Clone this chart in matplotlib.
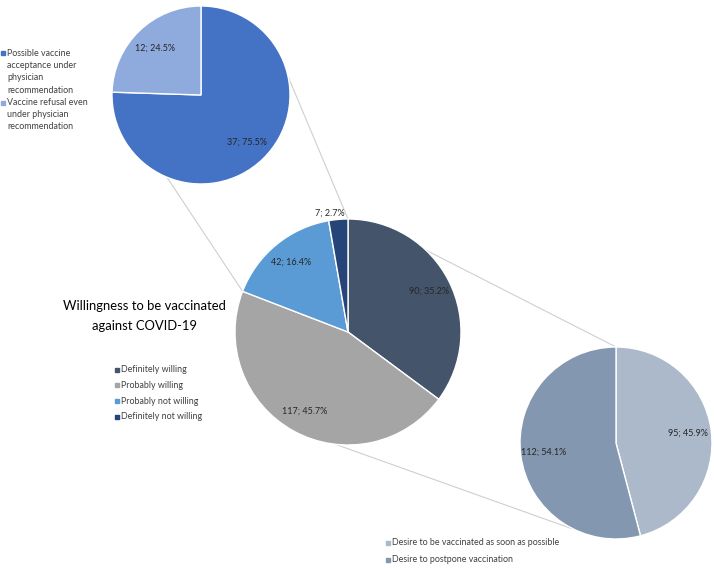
import numpy as np
import matplotlib.pyplot as plt

plt.rcParams['font.family'] = ['Lato', 'DejaVu Sans']

''' Data '''
willing_labels = ['Definitely willing', 'Probably willing',
                  'Probably not willing', 'Definitely not willing']
willing_counts = [90, 117, 42, 7]
willing_colors = ['#44546A', '#A5A5A5', '#5B9BD5', '#264478']

physician_labels = ['Possible vaccine\nacceptance under\nphysician\nrecommendation',
                    'Vaccine refusal even\nunder physician\nrecommendation']
physician_counts = [37, 12]
physician_colors = ['#4472C4', '#8FAADC']

timing_labels = ['Desire to be vaccinated as soon as possible',
                 'Desire to postpone vaccination']
timing_counts = [95, 112]
timing_colors = ['#ACB9CA', '#8497B0']

title = 'Willingness to be vaccinated\nagainst COVID-19'

''' Layout, in pixels measured from the top left '''
W, H = 714, 568
main_center, main_r = (348, 332), 113
phys_center, phys_r = (201, 95), 89
time_center, time_r = (616, 443), 96


def px(p):
    return (p[0], H - p[1])


def fmt_label(counts):
    total = sum(counts)
    return lambda pct: '%d; %.1f%%' % (round(pct * total / 100), pct)


def edge_point(center, r, angle):
    cx, cy = px(center)
    a = np.deg2rad(angle)
    return cx + r * np.cos(a), cy + r * np.sin(a)


def draw_key(x, y, labels, colors, step, line_spacing=1.0):
    # small square marker + text, y is the centre of the first line
    for i, (lab, col) in enumerate(zip(labels, colors)):
        yy = H - (y[i] if isinstance(y, list) else y + i * step)
        ax.plot(x, yy, 's', ms=2.8, color=col)
        ax.text(x + 4.5, yy + 4.6, lab, ha='left', va='top', fontsize=6.4,
                color='#404040', linespacing=line_spacing)


fig = plt.figure(figsize=(W / 100, H / 100), dpi=100)
ax = fig.add_axes([0, 0, 1, 1])

wedge_style = dict(edgecolor='white', linewidth=1)
text_style = dict(fontsize=6.5, color='#262626')
line_style = dict(color='#CFCFCF', linewidth=0.8, zorder=0)

main_wedges, _, main_texts = ax.pie(
    willing_counts, colors=willing_colors, center=px(main_center), radius=main_r,
    startangle=90, counterclock=False, autopct=fmt_label(willing_counts),
    pctdistance=0.8, wedgeprops=wedge_style, textprops=text_style)

# the thin slice gets its label outside
small = main_wedges[3]
mid = np.deg2rad((small.theta1 + small.theta2) / 2 + 3.7)
cx, cy = px(main_center)
main_texts[3].set_position((cx + 1.06 * main_r * np.cos(mid), cy + 1.06 * main_r * np.sin(mid)))

phys_wedges, _, _ = ax.pie(
    physician_counts, colors=physician_colors, center=px(phys_center), radius=phys_r,
    startangle=90, counterclock=False, autopct=fmt_label(physician_counts),
    pctdistance=0.74, wedgeprops=wedge_style, textprops=text_style)

time_wedges, _, _ = ax.pie(
    timing_counts, colors=timing_colors, center=px(time_center), radius=time_r,
    startangle=90, counterclock=False, autopct=fmt_label(timing_counts),
    pctdistance=0.76, wedgeprops=wedge_style, textprops=text_style)

# connector lines: not willing -> physician pie, willing -> timing pie
for a_from, a_to in [(12, main_wedges[3].theta1), (-112.5, main_wedges[2].theta2)]:
    p1 = edge_point(phys_center, phys_r, a_from)
    p2 = edge_point(main_center, main_r, a_to)
    ax.plot([p1[0], p2[0]], [p1[1], p2[1]], **line_style)
for a_from, a_to in [(46.4, 90), (-96.4, -115.2)]:
    p1 = edge_point(main_center, main_r, a_from)
    p2 = edge_point(time_center, time_r, a_to)
    ax.plot([p1[0], p2[0]], [p1[1], p2[1]], **line_style)

ax.text(144, H - 316, title, ha='center', va='center', fontsize=9.4,
        color='black', linespacing=1.75)

draw_key(2.5, [53.3, 102.5], physician_labels, physician_colors, 0, line_spacing=1.47)
draw_key(116.5, 369.5, willing_labels, willing_colors, 15.8)
draw_key(387.5, 542.7, timing_labels, timing_colors, 17.3)

ax.set_xlim(0, W)
ax.set_ylim(0, H)
ax.set_aspect('auto')
ax.axis('off')

fig.savefig('out.png', dpi=100)
